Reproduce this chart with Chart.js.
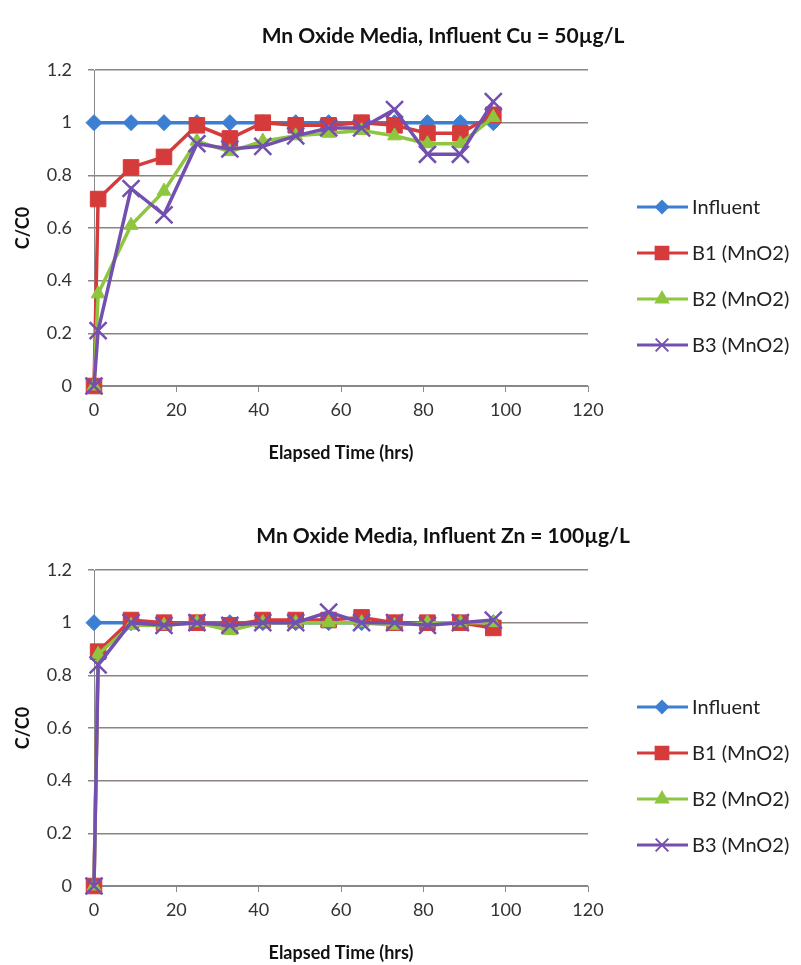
<!DOCTYPE html>
<html>
<head>
<meta charset="utf-8">
<script src="https://cdn.jsdelivr.net/npm/chart.js@4.4.1/dist/chart.umd.min.js"></script>
<style>
  html, body { margin: 0; padding: 0; background: #fff; overflow: hidden; }
  .box { position: absolute; left: 0; width: 801px; height: 500px; }
</style>
</head>
<body>
<div class="box" style="top:0"><canvas id="cuChart" width="801" height="500"></canvas></div>
<div class="box" style="top:500px"><canvas id="znChart" width="801" height="500"></canvas></div>
<script>
// elapsed time (hrs)
const influentTime = [0, 9, 17, 25, 33, 41, 49, 57, 65, 73, 81, 89, 97];
const bedTime = [0, 1, 9, 17, 25, 33, 41, 49, 57, 65, 73, 81, 89, 97];

const seriesNames = ['Influent', 'B1 (MnO2)', 'B2 (MnO2)', 'B3 (MnO2)'];
const xTicks = [0, 20, 40, 60, 80, 100, 120];
const yTicks = [0, 0.2, 0.4, 0.6, 0.8, 1, 1.2];

// Cu = 50 ug/L
const cuInfluent = [1, 1, 1, 1, 1, 1, 1, 1, 1, 1, 1, 1, 1];
const cuB1 = [0, 0.71, 0.83, 0.87, 0.99, 0.94, 1.0, 0.99, 0.99, 1.0, 0.99, 0.96, 0.96, 1.03];
const cuB2 = [0, 0.35, 0.61, 0.74, 0.93, 0.89, 0.93, 0.95, 0.96, 0.97, 0.95, 0.92, 0.92, 1.02];
const cuB3 = [0, 0.21, 0.75, 0.65, 0.92, 0.90, 0.91, 0.95, 0.98, 0.98, 1.05, 0.88, 0.88, 1.08];

// Zn = 100 ug/L
const znInfluent = [1, 1, 1, 1, 1, 1, 1, 1, 1, 1, 1, 1, 1];
const znB1 = [0, 0.89, 1.01, 1.0, 1.0, 0.99, 1.01, 1.01, 1.01, 1.02, 1.0, 1.0, 1.0, 0.98];
const znB2 = [0, 0.88, 0.99, 0.99, 1.0, 0.97, 1.0, 1.0, 1.0, 1.0, 0.99, 1.0, 1.0, 1.0];
const znB3 = [0, 0.84, 1.0, 0.99, 1.0, 0.99, 1.0, 1.0, 1.04, 1.0, 1.0, 0.99, 1.0, 1.01];

const FONT = 'Lato, "Open Sans", sans-serif';
const colors = ['#3c7fd2', '#d63b3b', '#8ec63f', '#7350b0'];
const styles = ['rectRot', 'rect', 'triangle', 'crossRot'];
const radii = [8, 11, 8, 12];
const legendRadii = [6, 9, 7, 9];

function pts(xs, ys) {
  return xs.map((x, i) => ({ x: x, y: ys[i] }));
}

// title + legend drawn by hand so they sit where the original puts them
const decor = {
  id: 'decor',
  afterDraw(chart, args, opts) {
    const ctx = chart.ctx;
    ctx.save();
    ctx.fillStyle = '#111';
    ctx.font = 'bold 21px ' + FONT;
    ctx.textAlign = 'center';
    ctx.textBaseline = 'middle';
    ctx.fillText(opts.title, 443, 36);

    ctx.font = '20px ' + FONT;
    ctx.textAlign = 'left';
    chart.data.datasets.forEach((ds, i) => {
      const y = 207 + i * 46;
      ctx.strokeStyle = ds.borderColor;
      ctx.lineWidth = 3;
      ctx.beginPath();
      ctx.moveTo(637, y);
      ctx.lineTo(688, y);
      ctx.stroke();
      ctx.fillStyle = ds.borderColor;
      ctx.strokeStyle = ds.borderColor;
      ctx.lineWidth = 2;
      Chart.helpers.drawPoint(ctx, { pointStyle: ds.pointStyle, radius: legendRadii[i], rotation: 0, borderWidth: 2 }, 662, y);
      ctx.fillStyle = '#222';
      ctx.fillText(ds.label, 692, y + 1);
    });
    ctx.restore();
  }
};

function makeChart(id, title, series) {
  const datasets = series.map((s, i) => ({
    label: seriesNames[i],
    data: s,
    borderColor: colors[i],
    backgroundColor: colors[i],
    borderWidth: 3.5,
    pointStyle: styles[i],
    pointRadius: radii[i],
    pointBorderWidth: i === 3 ? 2.5 : 1,
    pointBorderColor: colors[i],
    pointBackgroundColor: colors[i],
    tension: 0,
    clip: false,
    order: 3 - i
  }));

  return new Chart(document.getElementById(id), {
    type: 'line',
    data: { datasets: datasets },
    plugins: [decor],
    options: {
      responsive: false,
      animation: false,
      layout: { padding: { top: 70, right: 213, bottom: 36, left: 0 } },
      plugins: {
        legend: { display: false },
        tooltip: { enabled: false },
        decor: { title: title }
      },
      scales: {
        x: {
          type: 'linear',
          min: 0,
          max: 120,
          afterBuildTicks: s => { s.ticks = xTicks.map(v => ({ value: v })); },
          afterFit: s => { s.height = 78; },
          grid: { drawOnChartArea: false, drawTicks: true, tickLength: 6, color: '#8a8a8a' },
          border: { display: true, color: '#8a8a8a', width: 1 },
          ticks: { font: { family: FONT, size: 18 }, color: '#333', padding: 7, maxRotation: 0, callback: v => String(v) },
          title: {
            display: true,
            text: 'Elapsed Time (hrs)',
            font: { family: FONT, size: 18, weight: 'bold' },
            color: '#111',
            padding: { top: 0, bottom: 0 }
          }
        },
        y: {
          min: 0,
          max: 1.2,
          afterBuildTicks: s => { s.ticks = yTicks.map(v => ({ value: v })); },
          afterFit: s => { s.width = 94; },
          grid: { color: '#8c8480', lineWidth: 1.5, drawTicks: true, tickLength: 6 },
          border: { display: true, color: '#8a8a8a', width: 1 },
          ticks: { font: { family: FONT, size: 18 }, color: '#333', padding: 16, callback: v => String(v) },
          title: {
            display: true,
            text: 'C/C0',
            font: { family: FONT, size: 18, weight: 'bold' },
            color: '#111',
            padding: { top: 12, bottom: 0 }
          }
        }
      }
    }
  });
}

makeChart('cuChart', 'Mn Oxide Media, Influent Cu = 50\u00b5g/L', [
  pts(influentTime, cuInfluent),
  pts(bedTime, cuB1),
  pts(bedTime, cuB2),
  pts(bedTime, cuB3)
]);

makeChart('znChart', 'Mn Oxide Media, Influent Zn = 100\u00b5g/L', [
  pts(influentTime, znInfluent),
  pts(bedTime, znB1),
  pts(bedTime, znB2),
  pts(bedTime, znB3)
]);
</script>
</body>
</html>
